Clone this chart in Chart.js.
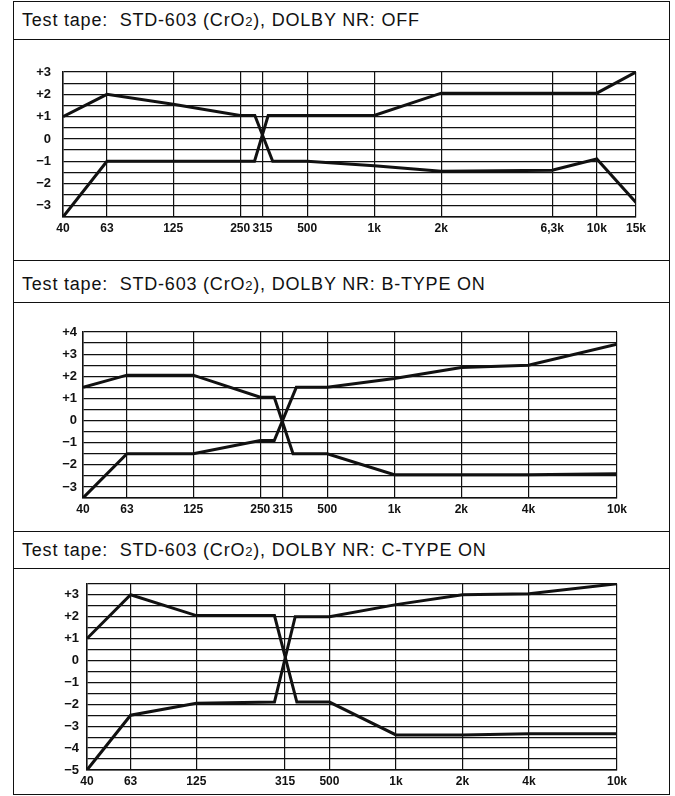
<!DOCTYPE html>
<html>
<head>
<meta charset="utf-8">
<script src="https://cdn.jsdelivr.net/npm/chart.js@4.4.1/dist/chart.umd.min.js"></script>
<style>
  body { margin: 0; background: #fff; }
  #page { position: relative; width: 675px; height: 796px; overflow: hidden; font-family: "Liberation Sans", Arial, sans-serif; }
  .frame { position: absolute; left: 13px; top: 1px; width: 657px; height: 794px; box-sizing: border-box; border: 1.5px solid #111; }
  .rule { position: absolute; left: 13px; width: 657px; height: 0; border-top: 1.5px solid #111; }
  .title { position: absolute; left: 22px; font-size: 18px; line-height: 20px; color: #111; letter-spacing: 0.8px; white-space: pre; }
  .title small { font-size: 13px; }
  canvas { position: absolute; left: 0; }
</style>
</head>
<body>
<div id="page">
  <div class="frame"></div>
  <div class="rule" style="top:39px"></div>
  <div class="rule" style="top:260px"></div>
  <div class="rule" style="top:302px"></div>
  <div class="rule" style="top:531px"></div>
  <div class="rule" style="top:568px"></div>
  <div class="title" style="top:10px">Test tape:  STD-603 (CrO<small>2</small>), DOLBY NR: OFF</div>
  <div class="title" style="top:274px">Test tape:  STD-603 (CrO<small>2</small>), DOLBY NR: B-TYPE ON</div>
  <div class="title" style="top:540px">Test tape:  STD-603 (CrO<small>2</small>), DOLBY NR: C-TYPE ON</div>
  <canvas id="chartOff" width="675" height="220" style="top:41px"></canvas>
  <canvas id="chartB" width="675" height="229" style="top:302px"></canvas>
  <canvas id="chartC" width="675" height="227" style="top:568px"></canvas>
</div>
<script>
// Frequenze e etichette dell'asse x (Hz)
const ticksOff = [40, 63, 125, 250, 315, 500, 1000, 2000, 6300, 10000, 15000];
const labelsOff = ['40', '63', '125', '250', '315', '500', '1k', '2k', '6,3k', '10k', '15k'];
const ticksB = [40, 63, 125, 250, 315, 500, 1000, 2000, 4000, 10000];
const labelsB = ['40', '63', '125', '250', '315', '500', '1k', '2k', '4k', '10k'];
const ticksC = [40, 63, 125, 315, 500, 1000, 2000, 4000, 10000];
const labelsC = ['40', '63', '125', '315', '500', '1k', '2k', '4k', '10k'];

// DOLBY NR: OFF (dB)
const offAFreq = [40, 63, 125, 250, 291, 350, 500, 1000, 2000, 6300, 10000, 15000];
const offAVal = [1.0, 2.0, 1.55, 1.05, 1.05, -1.0, -1.0, -1.2, -1.45, -1.4, -0.9, -2.85];
const offBFreq = [40, 63, 125, 250, 290, 334, 500, 1000, 2000, 6300, 10000, 15000];
const offBVal = [-3.5, -1.0, -1.0, -1.0, -1.0, 1.05, 1.05, 1.05, 2.05, 2.05, 2.05, 3.0];

// DOLBY NR: B-TYPE ON (dB)
const bAFreq = [40, 63, 125, 250, 289, 351, 500, 1000, 2000, 4000, 10000];
const bAVal = [1.5, 2.05, 2.05, 1.05, 1.05, -1.5, -1.5, -2.45, -2.45, -2.45, -2.4];
const bBFreq = [40, 63, 125, 250, 289, 363, 500, 1000, 2000, 4000, 10000];
const bBVal = [-3.5, -1.5, -1.5, -0.9, -0.9, 1.5, 1.5, 1.9, 2.4, 2.5, 3.45];

// DOLBY NR: C-TYPE ON (dB)
const cAFreq = [40, 63, 125, 282, 356, 500, 1000, 2000, 4000, 10000];
const cAVal = [1.0, 3.0, 2.05, 2.05, -1.9, -1.9, -3.4, -3.4, -3.35, -3.35];
const cBFreq = [40, 63, 125, 282, 350, 500, 1000, 2000, 4000, 10000];
const cBVal = [-5.0, -2.5, -1.95, -1.9, 2.0, 2.0, 2.55, 3.0, 3.05, 3.5];

// Griglia orizzontale ogni 0,5 dB
const gridOff = [-3.5, -3, -2.5, -2, -1.5, -1, -0.5, 0, 0.5, 1, 1.5, 2, 2.5, 3];
const gridB = [-3.5, -3, -2.5, -2, -1.5, -1, -0.5, 0, 0.5, 1, 1.5, 2, 2.5, 3, 3.5, 4];
const gridC = [-5, -4.5, -4, -3.5, -3, -2.5, -2, -1.5, -1, -0.5, 0, 0.5, 1, 1.5, 2, 2.5, 3, 3.5];

const ink = '#111';
const xFont = { family: '"Liberation Sans", Arial, sans-serif', size: 12, weight: 'bold' };
const yFont = { family: '"Liberation Sans", Arial, sans-serif', size: 13, weight: 'bold' };

const toPoints = (freqs, vals) => freqs.map((f, i) => ({ x: f, y: vals[i] }));

const fmtY = (v) => {
  if (!Number.isInteger(v)) return '';
  if (v > 0) return '+' + v;
  if (v < 0) return '\u2212' + Math.abs(v);
  return '0';
};

// Crea un grafico di risposta in frequenza
const makeChart = (id, cfg) => {
  const ctx = document.getElementById(id).getContext('2d');
  return new Chart(ctx, {
    type: 'line',
    data: {
      datasets: cfg.series.map(pts => ({
        data: pts,
        borderColor: ink,
        borderWidth: 3,
        pointRadius: 0,
        tension: 0,
        fill: false
      }))
    },
    options: {
      responsive: false,
      animation: false,
      layout: { padding: cfg.padding },
      plugins: {
        legend: { display: false },
        tooltip: { enabled: false }
      },
      scales: {
        x: {
          type: 'logarithmic',
          min: cfg.ticks[0],
          max: cfg.ticks[cfg.ticks.length - 1],
          afterBuildTicks: (scale) => {
            scale.ticks = cfg.ticks.map(v => ({ value: v }));
          },
          afterFit: (scale) => { scale.height = cfg.xHeight; },
          grid: { color: ink, lineWidth: 1.2, drawTicks: false },
          border: { color: ink, width: 1.5 },
          ticks: {
            autoSkip: false,
            maxRotation: 0,
            padding: 4,
            color: ink,
            font: xFont,
            callback: (v, i) => cfg.labels[i]
          }
        },
        y: {
          min: cfg.grid[0],
          max: cfg.grid[cfg.grid.length - 1],
          afterBuildTicks: (scale) => {
            scale.ticks = cfg.grid.map(v => ({ value: v }));
          },
          afterFit: (scale) => { scale.width = cfg.yWidth; },
          grid: { color: ink, lineWidth: 1.2, drawTicks: false },
          border: { color: ink, width: 1.5 },
          ticks: {
            autoSkip: false,
            padding: cfg.yPad,
            color: ink,
            font: yFont,
            callback: fmtY
          }
        }
      }
    }
  });
};

document.addEventListener('DOMContentLoaded', () => {
  makeChart('chartOff', {
    ticks: ticksOff, labels: labelsOff, grid: gridOff,
    series: [toPoints(offAFreq, offAVal), toPoints(offBFreq, offBVal)],
    yWidth: 63, xHeight: 44, yPad: 12,
    padding: { top: 31, right: 39, left: 0, bottom: 0 }
  });
  makeChart('chartB', {
    ticks: ticksB, labels: labelsB, grid: gridB,
    series: [toPoints(bAFreq, bAVal), toPoints(bBFreq, bBVal)],
    yWidth: 83, xHeight: 33, yPad: 6,
    padding: { top: 30, right: 58, left: 0, bottom: 0 }
  });
  makeChart('chartC', {
    ticks: ticksC, labels: labelsC, grid: gridC,
    series: [toPoints(cAFreq, cAVal), toPoints(cBFreq, cBVal)],
    yWidth: 87, xHeight: 25, yPad: 8,
    padding: { top: 12, right: 58, left: 0, bottom: 0 }
  });
});
</script>
</body>
</html>
